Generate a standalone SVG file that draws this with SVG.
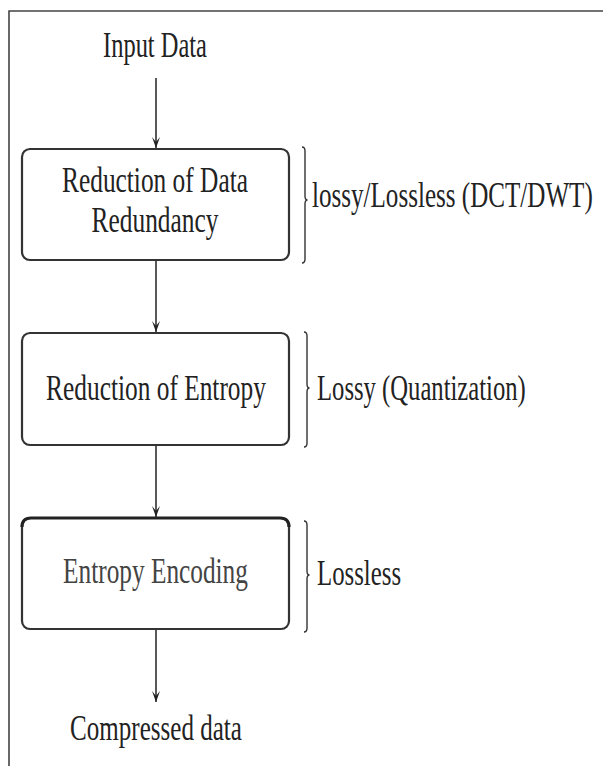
<svg xmlns="http://www.w3.org/2000/svg" width="603" height="766" viewBox="0 0 603 766">
<style>
.t{font-family:"Liberation Serif","Times New Roman",serif;font-size:36px;fill:#222}
.c{text-anchor:middle}
.box{fill:#fff;stroke:#333;stroke-width:2.2}
.con{stroke:#222;stroke-width:1.5;fill:none}
.br{stroke:#333;stroke-width:1.4;fill:none}
.frame{stroke:#444;stroke-width:1.6;fill:none}
</style>
<defs>
<marker id="ah" markerWidth="12" markerHeight="10" refX="11" refY="5" orient="auto" markerUnits="userSpaceOnUse" viewBox="0 0 12 10">
<path d="M0,1 L11,5 L0,9 L5,5 Z" fill="#222"/>
</marker>
</defs>
<rect width="603" height="766" fill="#fff"/>
<path class="frame" d="M9,766 L9,11 L603,11"/>

<g id="input"><text class="t c" transform="translate(155,57) scale(0.68,1)">Input Data</text></g>

<g id="box1">
<rect class="box" x="22" y="149" width="267" height="111" rx="8"/>
<text class="t c" transform="translate(155,192) scale(0.705,1)">Reduction of Data</text>
<text class="t c" transform="translate(155,232) scale(0.705,1)">Redundancy</text>
</g>
<g id="box2">
<rect class="box" x="22" y="333" width="267" height="112" rx="8"/>
<text class="t c" transform="translate(156,400) scale(0.705,1)">Reduction of Entropy</text>
</g>
<g id="box3">
<rect class="box" x="22" y="518" width="267" height="111" rx="8"/>
<path d="M22,527 q0,-9 9,-9 L280,518 q9,0 9,9" fill="none" stroke="#222" stroke-width="3.2"/>
<text class="t c" transform="translate(155.5,583) scale(0.703,1)" style="fill:#444">Entropy Encoding</text>
</g>
<g id="output"><text class="t c" transform="translate(156,740) scale(0.696,1)">Compressed data</text></g>

<g id="label1">
<path class="br" d="M302,147 q3,0 3,4 L305,196 q0,4 2.5,4 q-2.5,0 -2.5,4 L305,259 q0,4 -3,4"/>
<text class="t" transform="translate(312,207) scale(0.697,1)">lossy/Lossless (DCT/DWT)</text>
</g>
<g id="label2">
<path class="br" d="M304,332 q3,0 3,4 L307,384 q0,4 2.5,4 q-2.5,0 -2.5,4 L307,443 q0,4 -3,4"/>
<text class="t" transform="translate(317,400) scale(0.685,1)">Lossy (Quantization)</text>
</g>
<g id="label3">
<path class="br" d="M304,521 q3,0 3,4 L307,571 q0,4 2.5,4 q-2.5,0 -2.5,4 L307,628 q0,4 -3,4"/>
<text class="t" transform="translate(317,585) scale(0.689,1)">Lossless</text>
</g>

<g id="connectors">
<line class="con" x1="156" y1="78" x2="156" y2="148" marker-end="url(#ah)"/>
<line class="con" x1="156" y1="261" x2="156" y2="332" marker-end="url(#ah)"/>
<line class="con" x1="156" y1="446" x2="156" y2="517" marker-end="url(#ah)"/>
<line class="con" x1="156" y1="630" x2="156" y2="702" marker-end="url(#ah)"/>
</g>
</svg>
